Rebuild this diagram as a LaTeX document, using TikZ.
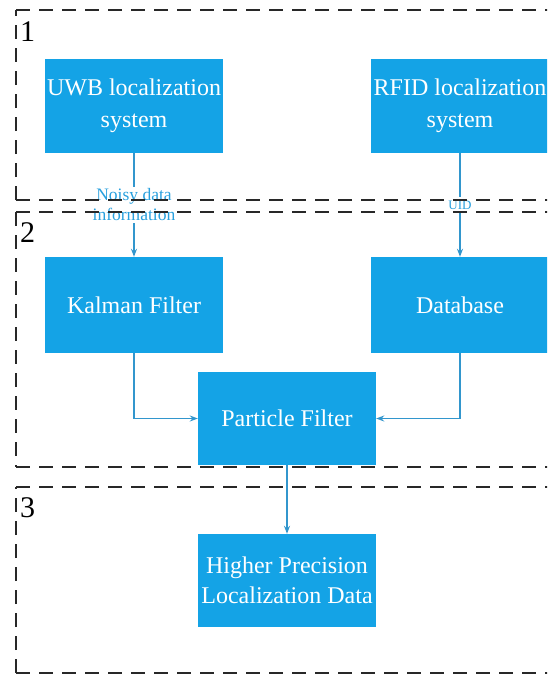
\documentclass[tikz,border=0pt]{standalone}
\usepackage{fontspec}
\setmainfont{Liberation Serif}
\usetikzlibrary{arrows.meta}
\definecolor{boxblue}{RGB}{20,163,230}
\definecolor{linkblue}{RGB}{50,150,205}
\definecolor{tagblue}{RGB}{40,160,222}
\definecolor{framegray}{RGB}{40,40,40}
\begin{document}
\begin{tikzpicture}[x=1pt,y=-1pt,
  stage/.style={fill=boxblue, text=white, minimum width=178pt, minimum height=94pt,
    inner sep=0pt, align=center, font=\fontsize{24}{32}\selectfont},
  link/.style={draw=linkblue, line width=1.3pt, -{Stealth[length=8pt,width=6pt]}},
  tag/.style={fill=white, text=tagblue, align=center, inner sep=2pt},
  frame/.style={draw=framegray, line width=1.8pt, dash pattern=on 14pt off 9pt},
  stagenum/.style={anchor=north west, inner sep=0pt, font=\fontsize{30}{30}\selectfont}]
\useasboundingbox (0,0) rectangle (547,677);
\begin{scope}
\clip (0,0) rectangle (547,677);

% processing blocks
\node[stage] (uwb) at (134,106) {UWB localization\\system};
\node[stage] (rfid) at (460,106) {RFID localization\\system};
\node[stage, minimum height=96pt] (kalman) at (134,305) {Kalman Filter};
\node[stage, minimum height=96pt] (db) at (460,305) {Database};
\node[stage, minimum height=93pt] (pf) at (287,418.5) {Particle Filter};
\node[stage, minimum height=93pt, font=\fontsize{24}{30}\selectfont] (hp) at (287,580.5)
  {Higher Precision\\Localization Data};

% data flow
\draw[link] (uwb) -- node[tag, font=\fontsize{17.5}{20}\selectfont] (noisy) {Noisy data\\information} (kalman);
\draw[link] (rfid) -- node[tag, font=\fontsize{13}{15}\selectfont, inner sep=4pt] (uid) {UID} (db);
\draw[link] (kalman.south) |- (pf.west);
\draw[link] (db.south) |- (pf.east);
\draw[link] (pf) -- (hp);

% stage frames
\draw[frame] (16,200) -- (16,10);
\draw[frame] (16,200) -- (570,200);
\draw[frame] (16,10) -- (570,10);

\draw[frame] (16,212) -- (16,467);
\draw[frame] (16,212) -- (570,212);
\draw[frame] (16,467) -- (570,467);

\draw[frame] (16,673) -- (16,487);
\draw[frame] (16,673) -- (570,673);
\draw[frame] (16,487) -- (570,487);

% stage numbers
\node[stagenum] (s1) at (20,21) {1};
\node[stagenum] (s2) at (20,222) {2};
\node[stagenum] (s3) at (20,497) {3};
\end{scope}
\end{tikzpicture}
\end{document}
